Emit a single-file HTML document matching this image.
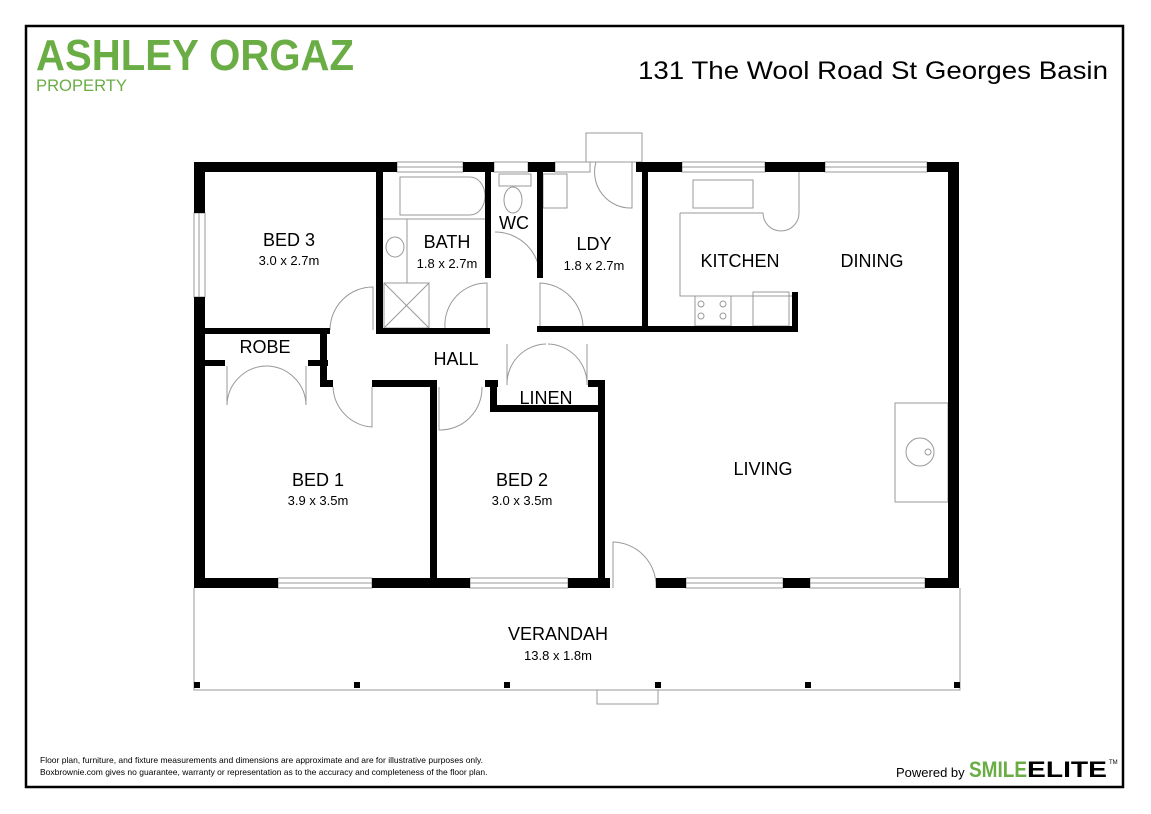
<!DOCTYPE html>
<html><head><meta charset="utf-8"><style>
html,body{margin:0;padding:0;background:#fff;}
svg{display:block;font-family:"Liberation Sans",Arial,sans-serif;}
</style></head><body>
<svg width="1151" height="814" viewBox="0 0 1151 814" xmlns="http://www.w3.org/2000/svg">
<rect x="26" y="26" width="1097" height="761" fill="none" stroke="#000" stroke-width="2.5"/>
<text x="36" y="70" font-size="44" font-weight="bold" fill="#6aad45" textLength="318" lengthAdjust="spacingAndGlyphs">ASHLEY ORGAZ</text>
<text x="36" y="91" font-size="17" fill="#6aad45" textLength="91" lengthAdjust="spacingAndGlyphs">PROPERTY</text>
<text x="1108" y="79" font-size="25" text-anchor="end" fill="#000" textLength="470" lengthAdjust="spacingAndGlyphs">131 The Wool Road St Georges Basin</text>

<g fill="none" stroke="#999" stroke-width="1">
<rect x="397" y="162" width="66" height="10"/><line x1="397" y1="167" x2="463" y2="167"/>
<rect x="494" y="162" width="34" height="10"/>
<rect x="555" y="162" width="35" height="10"/>
<rect x="682" y="162" width="83" height="10"/><line x1="682" y1="167" x2="765" y2="167"/>
<rect x="825" y="162" width="102" height="10"/><line x1="825" y1="167" x2="927" y2="167"/>
<rect x="194" y="213" width="11" height="84"/><line x1="199" y1="213" x2="199" y2="297"/>
<rect x="278" y="578" width="94" height="10"/><line x1="278" y1="583" x2="372" y2="583"/>
<rect x="470" y="578" width="98" height="10"/><line x1="470" y1="583" x2="568" y2="583"/>
<rect x="686" y="578" width="97" height="10"/><line x1="686" y1="583" x2="783" y2="583"/>
<rect x="810" y="578" width="115" height="10"/><line x1="810" y1="583" x2="925" y2="583"/>
<rect x="586" y="133" width="56" height="29"/>
<path d="M400 177 H470 A15 19 0 0 1 470 215 H400 Z"/>
<line x1="383" y1="219" x2="487" y2="219"/>
<line x1="407" y1="219" x2="407" y2="283"/>
<ellipse cx="395" cy="247" rx="9" ry="10"/>
<rect x="384" y="283" width="45" height="45"/><path d="M384 283 L429 328 M429 283 L384 328"/>
<rect x="499" y="174" width="32" height="12"/><ellipse cx="513" cy="200" rx="9" ry="13"/>
<rect x="543" y="174" width="24" height="34"/>
<rect x="693" y="180" width="60" height="28"/>
<path d="M680 213 H763 A18 18 0 0 0 799 213 V172 M680 213 V296 H793"/>
<rect x="695" y="296" width="36" height="30"/><rect x="753" y="292" width="36" height="34"/>
<circle cx="701" cy="304" r="3"/><circle cx="701" cy="316" r="3"/><circle cx="723" cy="304" r="3"/><circle cx="723" cy="316" r="3"/>
<rect x="895" y="403" width="53" height="99"/><circle cx="920" cy="452" r="14"/><circle cx="928" cy="452" r="3"/>
<path d="M373 330 V287 A43 43 0 0 0 330 330"/>
<path d="M445 328 A42 42 0 0 1 487 283 V328"/>
<path d="M495 232 A45 45 0 0 1 540 278"/>
<path d="M583 328 A45 45 0 0 0 540 283 V328"/>
<path d="M596 162 A36 36 0 0 0 632 208 V162"/>
<path d="M227 405 V366 M227 405 A40 40 0 0 1 266 366 M306 405 V366 M306 405 A40 40 0 0 0 266 366"/>
<path d="M333 387 A42 42 0 0 0 372 427 V387"/>
<path d="M439 387 V430 A42 42 0 0 0 482 387"/>
<path d="M507 344 V385 A40 40 0 0 1 546 344 M587 344 V385 A40 40 0 0 0 548 344"/>
<path d="M613 588 V542 A44 44 0 0 1 656 588"/>
<path d="M194 588 V690 H960 V588"/>
<rect x="597" y="690" width="61" height="14"/>
</g>

<g fill="#000">
<rect x="194" y="162" width="203" height="10"/>
<rect x="463" y="162" width="31" height="10"/>
<rect x="528" y="162" width="27" height="10"/>
<rect x="636" y="162" width="46" height="10"/>
<rect x="765" y="162" width="60" height="10"/>
<rect x="927" y="162" width="32" height="10"/>
<rect x="194" y="162" width="11" height="51"/>
<rect x="194" y="297" width="11" height="291"/>
<rect x="948" y="162" width="11" height="426"/>
<rect x="194" y="578" width="84" height="10"/>
<rect x="372" y="578" width="98" height="10"/>
<rect x="568" y="578" width="42" height="10"/>
<rect x="656" y="578" width="30" height="10"/>
<rect x="783" y="578" width="27" height="10"/>
<rect x="925" y="578" width="34" height="10"/>
<rect x="376" y="172" width="7" height="162"/>
<rect x="205" y="328" width="125" height="6"/>
<rect x="376" y="328" width="114" height="6"/>
<rect x="485" y="172" width="6" height="106"/>
<rect x="537" y="172" width="6" height="106"/>
<rect x="537" y="326" width="111" height="6"/>
<rect x="642" y="172" width="6" height="160"/>
<rect x="642" y="326" width="156" height="6"/>
<rect x="792" y="292" width="6" height="40"/>
<rect x="205" y="360" width="20" height="6"/>
<rect x="308" y="360" width="20" height="6"/>
<rect x="320" y="333" width="7" height="54"/>
<rect x="320" y="380" width="13" height="7"/>
<rect x="372" y="380" width="64" height="7"/>
<rect x="430" y="380" width="7" height="205"/>
<rect x="485" y="380" width="13" height="7"/>
<rect x="490" y="380" width="7" height="32"/>
<rect x="490" y="405" width="115" height="7"/>
<rect x="588" y="380" width="17" height="7"/>
<rect x="598" y="380" width="7" height="205"/>
<rect x="194" y="682" width="6" height="6"/><rect x="354" y="682" width="6" height="6"/><rect x="504" y="682" width="6" height="6"/>
<rect x="655" y="682" width="6" height="6"/><rect x="805" y="682" width="6" height="6"/><rect x="954" y="682" width="6" height="6"/>
</g>

<g fill="#000" text-anchor="middle">
<text x="289" y="246" font-size="18">BED 3</text><text x="289" y="265" font-size="13">3.0 x 2.7m</text>
<text x="447" y="248" font-size="18">BATH</text><text x="447" y="268" font-size="13">1.8 x 2.7m</text>
<text x="514" y="229" font-size="18">WC</text>
<text x="594" y="250" font-size="18">LDY</text><text x="594" y="270" font-size="13">1.8 x 2.7m</text>
<text x="740" y="267" font-size="18">KITCHEN</text>
<text x="872" y="267" font-size="18">DINING</text>
<text x="265" y="353" font-size="18">ROBE</text>
<text x="456" y="365" font-size="18">HALL</text>
<text x="546" y="404" font-size="18">LINEN</text>
<text x="318" y="486" font-size="18">BED 1</text><text x="318" y="505" font-size="13">3.9 x 3.5m</text>
<text x="522" y="486" font-size="18">BED 2</text><text x="522" y="505" font-size="13">3.0 x 3.5m</text>
<text x="763" y="475" font-size="18">LIVING</text>
<text x="558" y="640" font-size="18">VERANDAH</text><text x="558" y="660" font-size="13">13.8 x 1.8m</text>
</g>

<text x="40" y="763" font-size="8.5" fill="#000">Floor plan, furniture, and fixture measurements and dimensions are approximate and are for illustrative purposes only.</text>
<text x="40" y="775" font-size="8.5" fill="#000">Boxbrownie.com gives no guarantee, warranty or representation as to the accuracy and completeness of the floor plan.</text>
<text x="896" y="777" font-size="13" fill="#000">Powered by</text>
<text x="969" y="777" font-size="22" font-weight="bold" fill="#6aad45" textLength="58" lengthAdjust="spacingAndGlyphs">SMILE</text>
<text x="1027" y="777" font-size="22" font-weight="bold" fill="#000" textLength="80" lengthAdjust="spacingAndGlyphs">ELITE</text>
<text x="1109" y="764" font-size="6" fill="#000">TM</text>
</svg>
</body></html>
